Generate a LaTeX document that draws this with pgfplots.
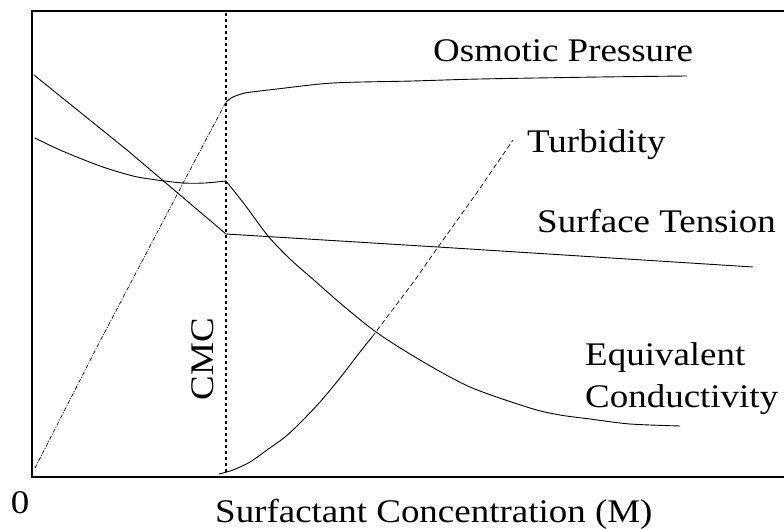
\documentclass[border=0pt]{standalone}
\usepackage{fontspec}
\setmainfont{Liberation Serif}[FakeStretch=1.12]
\usepackage{pgfplots}
\pgfplotsset{compat=1.18}

\tikzset{lab/.style={font=\fontsize{33}{38}\selectfont, inner sep=0pt, text=black}}

\begin{document}
\begin{tikzpicture}
\begin{axis}[
    at={(32pt,52pt)}, anchor=south west,
    scale only axis,
    width=752pt, height=466pt,
    xmin=32, xmax=784,
    ymin=11, ymax=477,
    y dir=reverse,
    axis line style={draw=none},
    xtick=\empty, ytick=\empty,
    clip=false,
]
% osmotic pressure
\addplot[black, line width=0.7pt, dash pattern=on 4pt off 1.5pt on 1pt off 1.5pt] coordinates {(35,468) (97,347) (200,151) (226,102)};
\addplot[black, line width=0.9pt, smooth] coordinates {(226,102) (233,97) (245,93) (260,91) (277,89) (333,83) (413,81) (480,79) (600,77) (687,76)};
% turbidity
\addplot[black, line width=0.9pt, smooth] coordinates {(219,474) (233,470) (250,462) (267,450) (285,437) (300,423) (320,402) (340,378) (360,352) (372,337)};
\addplot[black, line width=0.7pt, dash pattern=on 5pt off 3pt] coordinates {(372,337) (415,280) (438,247) (476,194) (513,140)};
% surface tension
\addplot[black, line width=0.9pt] coordinates {(34,75) (127,150) (180,195) (226,234) (438,247) (753,267)};
% equivalent conductivity
\addplot[black, line width=0.9pt, smooth] coordinates {(35,138) (60,150) (100,166) (133,176) (157,180) (183,183) (205,183) (226,181)};
\addplot[black, line width=0.9pt, smooth] coordinates {(226,181)
    (245,205) (268,236) (290,259) (315,281) (340,303) (376,332) (420,360) (470,387) (530,408) (560,415) (590,419) (630,424) (680,426)};
% CMC
\addplot[black, line width=2.4pt, dash pattern=on 3pt off 3pt] coordinates {(226,13) (226,474)};

\draw[line width=1.3pt] (axis cs:784,11) -- (axis cs:32,11) -- (axis cs:32,477) -- (axis cs:784,477);

\node[lab, anchor=base west] at (axis cs:433,62) {Osmotic Pressure};
\node[lab, anchor=base west] at (axis cs:527,153) {Turbidity};
\node[lab, anchor=base west] at (axis cs:537,233) {Surface Tension};
\node[lab, anchor=base west] at (axis cs:585,365) {Equivalent};
\node[lab, anchor=base west] at (axis cs:585,407) {Conductivity};
\node[lab, rotate=90] at (axis cs:203,359) {CMC};
\node[lab] at (axis cs:20,503) {0};
\node[lab, anchor=base west] at (axis cs:215,522) {Surfactant Concentration (M)};
\end{axis}
\pgfresetboundingbox
\path[use as bounding box] (0,0) rectangle (784pt,529pt);
\end{tikzpicture}
\end{document}
